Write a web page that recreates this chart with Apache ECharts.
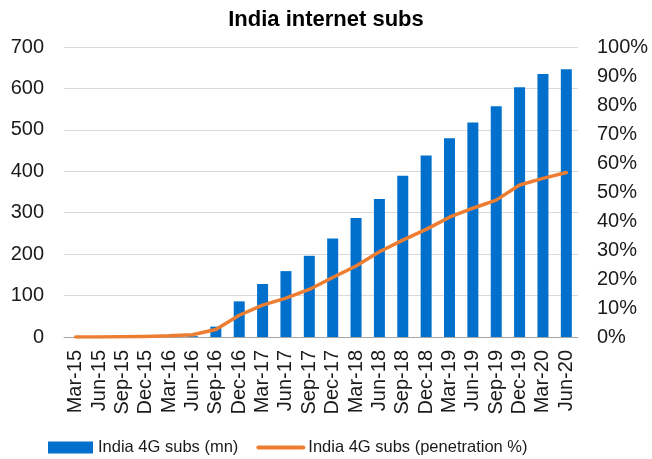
<!DOCTYPE html>
<html>
<head>
<meta charset="utf-8">
<script src="https://cdn.jsdelivr.net/npm/echarts@6/dist/echarts.min.js"></script>
<style>html,body{margin:0;padding:0;background:#fff;}#c{width:652px;height:459px;}</style>
</head>
<body>
<div id="c"></div>
<script>
const categories = ['Mar-15','Jun-15','Sep-15','Dec-15','Mar-16','Jun-16','Sep-16','Dec-16','Mar-17','Jun-17','Sep-17','Dec-17','Mar-18','Jun-18','Sep-18','Dec-18','Mar-19','Jun-19','Sep-19','Dec-19','Mar-20','Jun-20'];
const subsMn = [0,0,0,0,0,2,25,86,128,159,196,238,287,333,389,438,480,518,557,603,635,646];
const penetrationPct = [0,0,0.1,0.2,0.4,0.8,2.6,7.5,11,13.4,16.4,20.5,24.5,29.4,33.4,37.1,41.3,44.4,47.2,52.4,54.7,56.7];
const seriesNames = ['India 4G subs (mn)','India 4G subs (penetration %)'];
const titleText = 'India internet subs';

const FONT = "'Liberation Sans', Arial, Helvetica, sans-serif";
const chart = echarts.init(document.getElementById('c'), null, {renderer:'canvas'});
chart.setOption({
  animation: false,
  backgroundColor: '#fff',
  title: {
    text: titleText, left: 'center', top: 9, padding: 0,
    textStyle: {fontFamily: FONT, fontSize: 22, fontWeight: 'bold', color: '#000'}
  },
  legend: {
    left: 48, top: 439, padding: 0, itemGap: 18, itemWidth: 45, itemHeight: 12,
    textStyle: {fontFamily: FONT, fontSize: 16.5, color: '#1a1a1a', padding: [0,0,0,0]},
    data: [
      {name: seriesNames[0], icon: 'rect'},
      {name: seriesNames[1], itemStyle: {opacity: 0}, lineStyle: {width: 4, color: '#ed7d31'}}
    ]
  },
  grid: {left: 64, right: 74, top: 47, bottom: 122, containLabel: false},
  xAxis: {
    type: 'category', data: categories,
    axisLine: {show: true, lineStyle: {color: '#a6a6a6', width: 1}},
    axisTick: {show: false},
    axisLabel: {rotate: 90, interval: 0, margin: 13, fontFamily: FONT, fontSize: 20, color: '#1a1a1a'}
  },
  yAxis: [
    {
      type: 'value', min: 0, max: 700, interval: 100,
      axisLine: {show: false}, axisTick: {show: false},
      axisLabel: {margin: 20, fontFamily: FONT, fontSize: 20, color: '#1a1a1a'},
      splitLine: {lineStyle: {color: '#d9d9d9', width: 1}}
    },
    {
      type: 'value', min: 0, max: 100, interval: 10, position: 'right',
      axisLine: {show: false}, axisTick: {show: false},
      axisLabel: {margin: 19, fontFamily: FONT, fontSize: 20, color: '#1a1a1a', formatter: '{value}%'},
      splitLine: {show: false}
    }
  ],
  series: [
    {
      name: seriesNames[0], type: 'bar', data: subsMn, yAxisIndex: 0,
      barWidth: 11, itemStyle: {color: '#0070cc'}
    },
    {
      name: seriesNames[1], type: 'line', data: penetrationPct, yAxisIndex: 1,
      symbol: 'none', smooth: false,
      lineStyle: {color: '#ed7d31', width: 3.5, cap: 'round', join: 'round'},
      itemStyle: {color: '#ed7d31'}
    }
  ]
});
</script>
</body>
</html>
